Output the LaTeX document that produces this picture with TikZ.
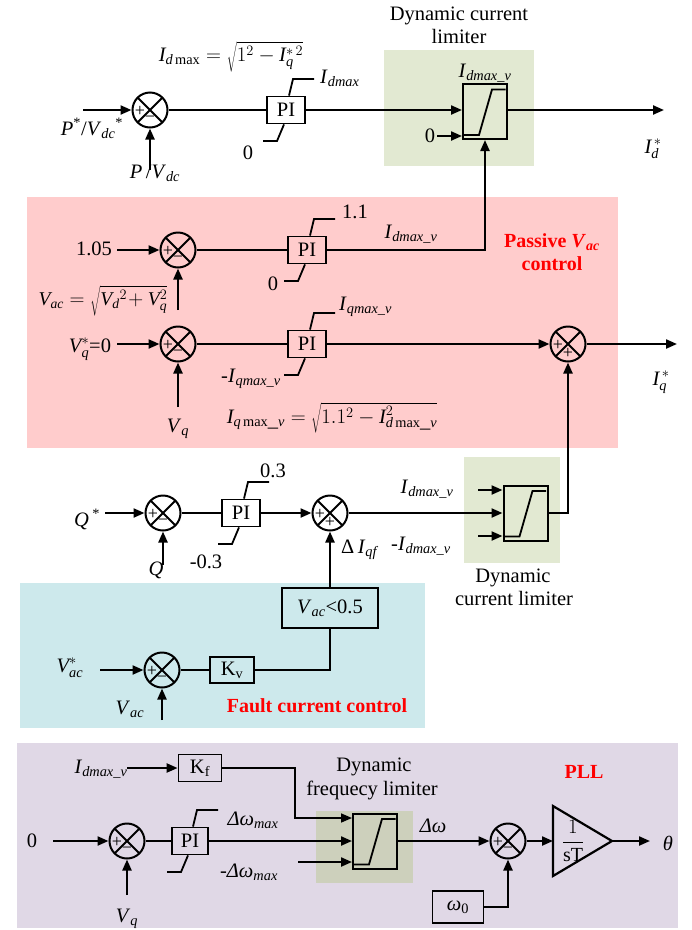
\documentclass[tikz,border=0pt]{standalone}
\usepackage{fontspec}
\setmainfont{Liberation Serif}
\usetikzlibrary{arrows.meta,calc}
\definecolor{bggreen}{RGB}{226,233,210}
\definecolor{bgpink}{RGB}{255,204,204}
\definecolor{bgcyan}{RGB}{205,233,236}
\definecolor{bglav}{RGB}{224,216,230}
\definecolor{bgolive}{RGB}{205,208,188}
\newcommand{\Iv}[1]{\textit{I}\textsubscript{\textit{#1}}}
\newcommand{\Vv}[1]{\textit{V}\textsubscript{\textit{#1}}}
\newcommand{\limcurve}[1]{\draw[line width=1.8pt] ([shift={(-21,23.5)}]#1.center) -- ([shift={(-6,23.5)}]#1.center) -- ([shift={(7,-22)}]#1.center) -- ([shift={(20.5,-22)}]#1.center);}
\newcommand{\pihooks}[1]{%
  \draw[line width=1.8pt] ([xshift=3pt]#1.north) -- ([shift={(7,-31)}]#1.center) -- ([shift={(28,-31)}]#1.center);
  \draw[line width=1.8pt] ([xshift=-2pt]#1.south) -- ([shift={(-9,31)}]#1.center) -- ([shift={(-23,31)}]#1.center);}
\newcommand{\sumsigns}[3]{%
  \node[sgn] at ([shift={(-10,1)}]#1.center) {#2};
  \node[sgn] at ([shift={(0,9.5)}]#1.center) {#3};}
\begin{document}
\begin{tikzpicture}[x=1pt,y=-1pt,
  every node/.style={font=\fontsize{20.5}{24}\selectfont, inner sep=2pt},
  sumc/.style={circle, draw, line width=2pt, minimum size=35pt, inner sep=0pt,
    path picture={\draw[line width=2pt] (path picture bounding box.north west) -- (path picture bounding box.south east) (path picture bounding box.north east) -- (path picture bounding box.south west);}},
  sgn/.style={font=\fontsize{18}{18}\selectfont, inner sep=0pt},
  blk/.style={draw, line width=1.8pt, inner sep=0pt, minimum width=38pt, minimum height=27pt},
  limbox/.style={draw, line width=2pt, inner sep=0pt, minimum width=44pt, minimum height=55pt},
  arr/.style={line width=2.2pt, -{Triangle[length=11pt,width=9pt]}},
  wire/.style={line width=2.2pt},
  thinw/.style={line width=1.4pt},
  redlab/.style={text=red, font=\bfseries\fontsize{20}{24}\selectfont, anchor=base}
]
\useasboundingbox (0,0) rectangle (692,930);
% backgrounds
\fill[bggreen] (384,50) rectangle (534,166);
\fill[bgpink] (27,197) rectangle (618,448);
\fill[bggreen] (464,457) rectangle (560,563);
\fill[bgcyan] (20,583) rectangle (425,728);
\fill[bglav] (17,743) rectangle (678,928);
\fill[bgolive] (316,811) rectangle (413,883);

% ---------- top: d-axis ----------
\node[sumc] (s1) at (150,110) {};
\node[blk] (pi1) at (286,110) {PI};
\node[limbox] (lim1) at (485,111.5) {};
\limcurve{lim1}
\pihooks{pi1}
\sumsigns{s1}{+}{−}
\coordinate (s1in) at (83,110);
\coordinate (s1b) at (150,170);
\coordinate (idout) at (664,110);
\node (z1) at (430,136) {0};
\draw[arr] (s1in) -- (s1.west);
\draw[arr] (s1b) -- (s1.south);
\draw[thinw] (s1.east) -- (pi1.west);
\draw[arr] (pi1.east) -- (pi1.east -| lim1.west);
\draw[arr] (z1.east) -- (z1.east -| lim1.west);
\draw[arr] (pi1.east -| lim1.east) -- (idout);
\node[anchor=base] at (231,61) {$\mathit{I}_{\mathit{d}\,\mathrm{max}}=\sqrt{1^{2}-\mathit{I}_{\mathit{q}}^{*\,2}}$};
\node[anchor=base west] at (318,83) {\Iv{dmax}};
\node[anchor=base] at (248,159) {0};
\node[anchor=base] at (92,135) {\textit{P}\textsuperscript{*}/\Vv{dc}\textsuperscript{*}};
\node[anchor=base] at (155,178) {\textit{P}\,/\Vv{dc}};
\node[anchor=base] at (459,20) {Dynamic current};
\node[anchor=base] at (459,43) {limiter};
\node[anchor=base] at (485,77) {\Iv{dmax\_v}};
\node[anchor=base] at (653,153) {$\mathit{I}_{\mathit{d}}^{\,*}$};

% ---------- passive Vac control ----------
\node[sumc] (s2) at (178,250) {};
\node[blk] (pi2) at (307,250) {PI};
\node[sumc] (s3) at (178,344) {};
\node[blk] (pi3) at (307,344) {PI};
\node[sumc] (s4) at (568,344) {};
\pihooks{pi2}
\pihooks{pi3}
\sumsigns{s2}{+}{−}
\sumsigns{s3}{+}{−}
\sumsigns{s4}{+}{+}
\coordinate (s2in) at (117,250);
\coordinate (s2b) at (178,310);
\coordinate (s3in) at (117,344);
\coordinate (s3b) at (178,407);
\coordinate (iqout) at (677,344);
\draw[arr] (s2in) -- (s2.west);
\draw[arr] (s2b) -- (s2.south);
\draw[thinw] (s2.east) -- (pi2.west);
\draw[arr] (pi2.east) -| (lim1.south);
\draw[arr] (s3in) -- (s3.west);
\draw[arr] (s3b) -- (s3.south);
\draw[thinw] (s3.east) -- (pi3.west);
\draw[arr] (pi3.east) -- (s4.west);
\draw[arr] (s4.east) -- (iqout);
\node[anchor=base] at (94,255) {1.05};
\node[anchor=base, font=\fontsize{19.5}{23}\selectfont] at (103,305) {$\mathit{V}_{\mathit{ac}}=\sqrt{\mathit{V}_{\mathit{d}}{}^{2}\mathbin{\!+}\mathit{V}_{\mathit{q}}^{2}}$};
\node[anchor=base] at (355,218) {1.1};
\node[anchor=base] at (273,290) {0};
\node[anchor=base] at (411,238) {\Iv{dmax\_v}};
\node[redlab] at (552,247) {Passive \textit{V}\textsubscript{\textit{ac}}};
\node[redlab] at (552,270) {control};
\node[anchor=base] at (90,352) {$\mathit{V}_{\mathit{q}}^{*}$=0};
\node[anchor=base west] at (337,310) {\Iv{qmax\_v}};
\node[anchor=base] at (251,382) {-\Iv{qmax\_v}};
\node[anchor=base] at (178,432) {\Vv{q}};
\node[anchor=base] at (332,423) {$\mathit{I}_{\mathit{q}\,\mathrm{max\_}\mathit{v}}=\sqrt{1.1^{2}-\mathit{I}_{\mathit{d}\,\mathrm{max\_}\mathit{v}}^{2}}$};
\node[anchor=base] at (661,385) {$\mathit{I}_{\mathit{q}}^{\,*}$};

% ---------- Q loop ----------
\node[sumc] (q1) at (163,513) {};
\node[blk] (piq) at (241,513) {PI};
\node[sumc] (q2) at (330,513) {};
\node[limbox] (lim2) at (525.5,513) {};
\limcurve{lim2}
\pihooks{piq}
\sumsigns{q1}{+}{−}
\sumsigns{q2}{+}{+}
\node[blk, minimum width=96pt, minimum height=40pt] (vb) at (330,608) {\Vv{ac}<0.5};
\coordinate (q1in) at (105,513);
\coordinate (q1b) at (163,565);
\coordinate (l2a) at (478,490);
\coordinate (l2c) at (478,536);
\draw[arr] (q1in) -- (q1.west);
\draw[arr] (q1b) -- (q1.south);
\draw[thinw] (q1.east) -- (piq.west);
\draw[arr] (piq.east) -- (q2.west);
\draw[arr] (q2.east) -- (lim2.west);
\draw[arr] (l2a) -- (l2a -| lim2.west);
\draw[arr] (l2c) -- (l2c -| lim2.west);
\draw[arr] (lim2.east) -| (s4.south);
\draw[arr] (vb.north) -- (q2.south);
\node[anchor=base] at (87,526) {\textit{Q}\,\textsuperscript{*}};
\node[anchor=base] at (156,575) {\textit{Q}};
\node[anchor=base] at (273,477) {0.3};
\node[anchor=base] at (206,568) {-0.3};
\node[anchor=base] at (360,553) {Δ\,\Iv{qf}};
\node[anchor=base] at (427,493) {\Iv{dmax\_v}};
\node[anchor=base] at (421,550) {-\Iv{dmax\_v}};
\node[anchor=base] at (513,582) {Dynamic};
\node[anchor=base] at (514,605) {current limiter};

% ---------- fault current control ----------
\node[sumc] (f1) at (162,670) {};
\node[blk, minimum width=44pt, minimum height=26pt] (kv) at (232,670) {K\textsubscript{v}};
\sumsigns{f1}{+}{−}
\coordinate (f1in) at (100,670);
\coordinate (f1b) at (162,720);
\draw[arr] (f1in) -- (f1.west);
\draw[arr] (f1b) -- (f1.south);
\draw[thinw] (f1.east) -- (kv.west);
\draw[wire] (kv.east) -| (vb.south);
\node[anchor=base] at (70,672) {$\mathit{V}_{\mathit{ac}}^{*}$};
\node[anchor=base] at (130,714) {\Vv{ac}};
\node[redlab] at (317,712) {Fault current control};

% ---------- PLL ----------
\node[blk, minimum width=43pt] (kf) at (200,768) {K\textsubscript{f}};
\node[sumc] (p1) at (127,841) {};
\node[blk, minimum width=36pt] (pip) at (190,841) {PI};
\node[limbox] (lim3) at (375,841) {};
\node[sumc] (p2) at (508,841) {};
\node[blk, minimum width=51pt, minimum height=32pt] (w0) at (458,907) {\textit{ω}\textsubscript{0}};
\limcurve{lim3}
\pihooks{pip}
\sumsigns{p1}{+}{−}
\sumsigns{p2}{+}{−}
\coordinate (kfin) at (127,768);
\coordinate (p1in) at (53,841);
\coordinate (p1b) at (127,895);
\coordinate (kfc) at (295,818);
\coordinate (l3c) at (298,862);
\coordinate (triL) at (553,841);
\coordinate (triT) at (553,806);
\coordinate (triB) at (553,876);
\coordinate (triR) at (612,841);
\coordinate (thout) at (650,841);
\draw[wire] (triT) -- (triR) -- (triB) -- cycle;
\node at (573,841) {\fontsize{20}{22}\selectfont$\displaystyle\frac{1}{\mathrm{sT}}$};
\draw[arr] (kfin) -- (kf.west);
\draw[arr, line width=1.6pt] (kf.east) -| (kfc) -- (kfc -| lim3.west);
\draw[arr] (p1in) -- (p1.west);
\draw[arr] (p1b) -- (p1.south);
\draw[thinw] (p1.east) -- (pip.west);
\draw[arr] (pip.east) -- (lim3.west);
\draw[arr] (l3c) -- (l3c -| lim3.west);
\draw[arr] (lim3.east) -- (p2.west);
\draw[arr] (p2.east) -- (triL);
\draw[arr] (triR) -- (thout);
\draw[arr] (w0.east) -| (p2.south);
\node[anchor=base] at (101,773) {\Iv{dmax\_v}};
\node[anchor=base] at (32,847) {0};
\node[anchor=base] at (127,922) {\Vv{q}};
\node[anchor=base] at (253,825) {\textit{Δω}\textsubscript{\textit{max}}};
\node[anchor=base] at (249,877) {-\textit{Δω}\textsubscript{\textit{max}}};
\node[anchor=base] at (374,771) {Dynamic};
\node[anchor=base] at (372,795) {frequecy limiter};
\node[anchor=base] at (433,832) {\textit{Δω}};
\node[redlab] at (584,778) {PLL};
\node[anchor=base] at (668,850) {\textit{θ}};
\end{tikzpicture}
\end{document}
